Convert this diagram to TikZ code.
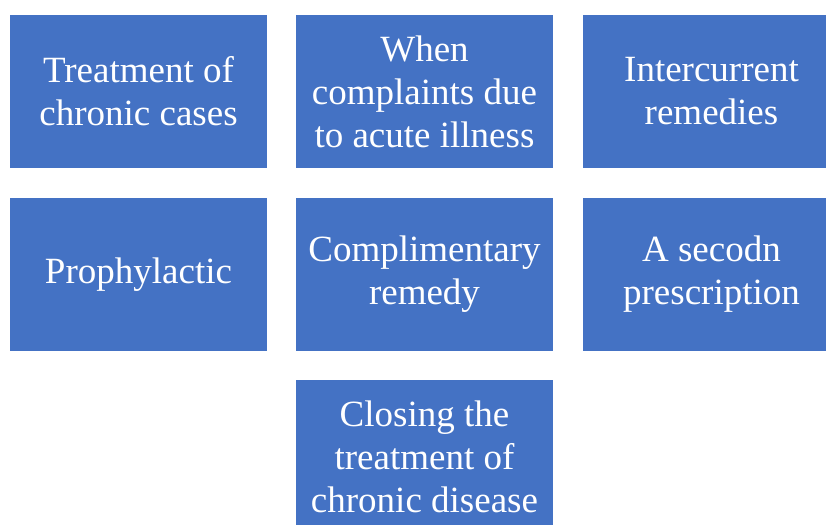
\documentclass[tikz,border=0pt]{standalone}
\usepackage{fontspec}
\setmainfont{Liberation Serif}
\definecolor{boxblue}{HTML}{4472C4}
\begin{document}
\begin{tikzpicture}[x=1pt,y=-1pt,
  bluebox/.style={fill=boxblue, draw=none, text=white, minimum width=257pt, minimum height=153pt,
    inner sep=0pt, align=center, font=\fontsize{37}{43}\selectfont}]
\useasboundingbox (0,0) rectangle (826,524);
\clip (0,0) rectangle (826,524);
\fill[white] (0,0) rectangle (826,524);
\node[bluebox] (b1) at (138.5,91.5) {Treatment of\\chronic cases};
\node[bluebox] (b2) at (424.5,91.5) {When\\complaints due\\to acute illness};
\node[bluebox] (b3) at (711.5,91.5) {Intercurrent\\remedies};
\node[bluebox] (b4) at (138.5,274.5) {Prophylactic};
\node[bluebox] (b5) at (424.5,274.5) {Complimentary\\remedy};
\node[bluebox] (b6) at (711.5,274.5) {A secodn\\prescription};
\node[bluebox] (b7) at (424.5,456.5) {Closing the\\treatment of\\chronic disease};
\end{tikzpicture}
\end{document}
